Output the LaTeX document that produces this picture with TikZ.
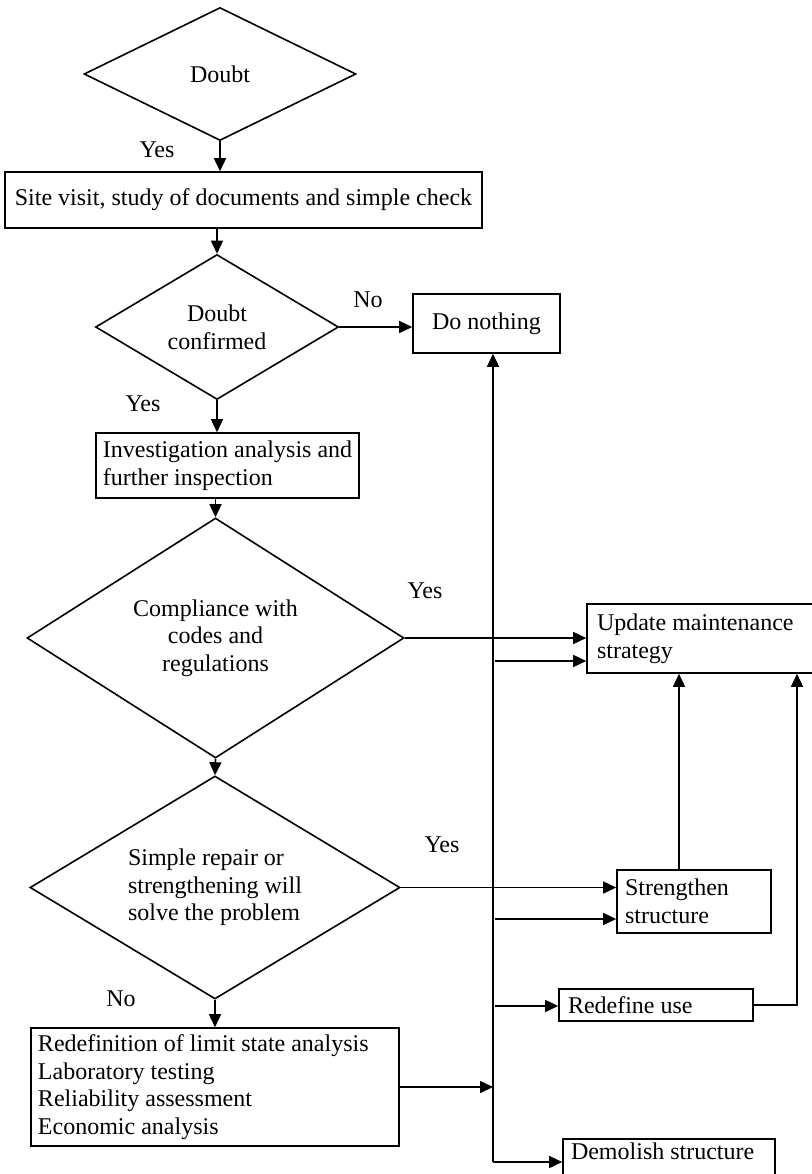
\documentclass[tikz,border=0pt]{standalone}
\usepackage{fontspec}
\setmainfont{Liberation Serif}
\usetikzlibrary{shapes.geometric,arrows.meta}

\tikzset{
  decision/.style={diamond, draw, inner sep=0pt, align=center},
  stepbox/.style={rectangle, draw, inner ysep=2pt},
  arr/.style={-{Triangle[length=6.5pt,width=6pt]}},
}

\begin{document}
\begin{tikzpicture}[x=0.5pt,y=-0.5pt,line width=0.8pt,font=\fontsize{12}{13.8}\selectfont]
    \useasboundingbox (0,0) rectangle (811,1174);
    % main column
    \node [decision, aspect=2.05, minimum width=136pt, minimum height=66.5pt] (doubt) at (220,74) {Doubt};
    \node [stepbox, minimum width=238.5pt, minimum height=28pt] (site) at (243.5,200) {Site visit, study of documents and simple check};
    \node [decision, aspect=1.68, minimum width=121.5pt, minimum height=72.5pt] (confirm) at (217,327) {Doubt\\confirmed};
    \node [stepbox, align=flush left, minimum width=131.5pt, minimum height=32.5pt] (invest) at (227.5,465.5) {Investigation analysis and\\further inspection};
    \node [decision, aspect=1.57, minimum width=188.5pt, minimum height=120pt] (comply) at (215.5,638) {Compliance with\\codes and\\regulations};
    \node [decision, align=flush left, aspect=1.66, minimum width=185pt, minimum height=111.5pt] (simple) at (215,887.5) {Simple repair or\\strengthening will\\solve the problem};
    \node [stepbox, align=flush left, text width=177pt, inner xsep=3.5pt, minimum height=59pt] (limit) at (215,1087) {Redefinition of limit state analysis\\Laboratory testing\\Reliability assessment\\Economic analysis};
    % outcomes
    \node [stepbox, minimum width=73.5pt, minimum height=29.5pt] (nothing) at (486.5,323.5) {Do nothing};
    \node [stepbox, align=flush left, text width=104pt, inner xsep=5pt, minimum height=34.5pt] (update) at (701,638.5) {Update maintenance\\strategy};
    \node [stepbox, align=flush left, text width=69pt, inner xsep=4pt, minimum height=31.5pt] (strength) at (694,901.5) {Strengthen\\structure};
    \node [stepbox, align=flush left, text width=88pt, inner xsep=4.5pt, minimum height=16pt] (redefine) at (656,1005) {Redefine use};
    \node [stepbox, anchor=north, align=flush left, text width=98pt, inner xsep=4pt, text height=8.5pt, text depth=12pt] (demolish) at (669,1138) {Demolish structure};
    % labels
    \node (yes1) at (157,150) {Yes};
    \node (no1) at (368,300) {No};
    \node (yes2) at (143,404) {Yes};
    \node (yes3) at (425,591) {Yes};
    \node (yes4) at (442,845) {Yes};
    \node (no2) at (121,999) {No};
    % bus line
    \coordinate (bus) at (493,1162);
    \coordinate (b1) at (495,661);
    \coordinate (b2) at (495,919);
    \coordinate (b3) at (495,1006);
    % connectors
    \draw [arr] (doubt.south) -- (doubt.south |- site.north);
    \draw [arr] (site.south -| confirm.north) -- (confirm.north);
    \draw [arr] (confirm.south) -- (confirm.south |- invest.north);
    \draw [arr] (invest.south -| comply.north) -- (comply.north);
    \draw [arr] (comply.south) -- (simple.north);
    \draw [arr] (simple.south) -- (simple.south |- limit.north);
    \draw [arr] (confirm.east) -- (confirm.east -| nothing.west);
    \draw [arr] (comply.east) -- (comply.east -| update.west);
    \draw [arr] (simple.east) -- (simple.east -| strength.west);
    \draw [arr] (bus) -- (bus |- nothing.south);
    \draw [arr] (limit.east) -- (limit.east -| bus);
    \draw [arr] (b1) -- (b1 -| update.west);
    \draw [arr] (b2) -- (b2 -| strength.west);
    \draw [arr] (b3) -- (b3 -| redefine.west);
    \draw [arr] (bus) -- (bus -| demolish.west);
    \draw [arr] ([xshift=-7.5pt]strength.north) -- ([xshift=-7.5pt]strength.north |- update.south);
    \draw [arr] (redefine.east) -| ([xshift=48pt]update.south);
\end{tikzpicture}
\end{document}
